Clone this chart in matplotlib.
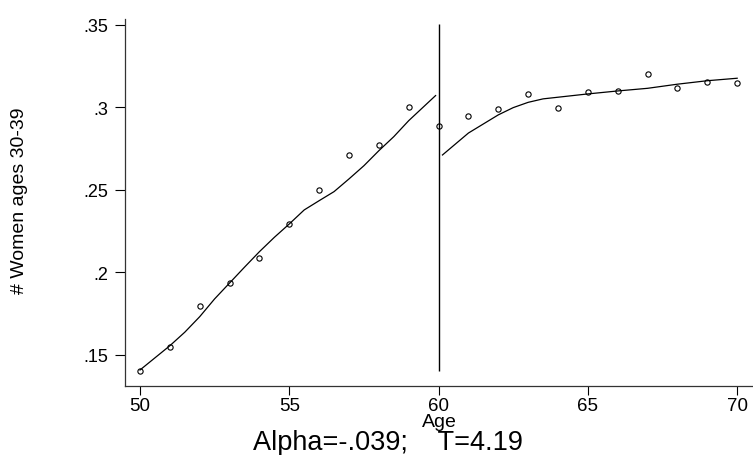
import numpy as np
import matplotlib
matplotlib.use("Agg")
import matplotlib.pyplot as plt

plt.rcParams['font.family'] = ['Liberation Sans', 'DejaVu Sans']

# -----------------------------
# data
# -----------------------------
ages = [50, 51, 52, 53, 54, 55, 56, 57, 58, 59, 60,
        61, 62, 63, 64, 65, 66, 67, 68, 69, 70]
share = [0.1405, 0.155, 0.1795, 0.1935, 0.2086, 0.2292, 0.2502, 0.2714, 0.2775, 0.3001, 0.2886,
         0.2948, 0.2989, 0.3084, 0.2995, 0.3094, 0.3102, 0.3205, 0.312, 0.3155, 0.3147]

# smoothed fit, left of the cutoff
fit_left_age = [50, 51, 51.5, 52, 52.5, 53, 53.5, 54, 54.5, 55, 55.5, 56, 56.5,
                57, 57.5, 58, 58.5, 59, 59.9]
fit_left = [0.1409, 0.1556, 0.1638, 0.1732, 0.184, 0.1936, 0.2032, 0.2126, 0.2213, 0.2294,
            0.2379, 0.2435, 0.249, 0.2567, 0.2647, 0.2738, 0.2823, 0.292, 0.3072]

# smoothed fit, right of the cutoff
fit_right_age = [60.13, 61, 61.5, 62, 62.5, 63, 63.5, 64, 65, 66, 67, 68, 69, 70]
fit_right = [0.2712, 0.2845, 0.29, 0.2955, 0.2999, 0.3031, 0.3052, 0.3062, 0.3082,
             0.31, 0.3116, 0.3141, 0.3162, 0.3177]

cutoff = 60
cut_lo, cut_hi = 0.1405, 0.3506

xticks = [50, 55, 60, 65, 70]
yticks = [0.15, 0.2, 0.25, 0.3, 0.35]
ytick_labels = ['.15', '.2', '.25', '.3', '.35']

# -----------------------------
# plot
# -----------------------------
fig = plt.figure(figsize=(7.53, 4.56), dpi=100)
ax = fig.add_axes([125/753, 69/456, 628/753, 367/456])

ax.plot(ages, share, linestyle='none', marker='o', markersize=3.8,
        markerfacecolor='none', markeredgecolor='black', markeredgewidth=0.8)
ax.plot(fit_left_age, fit_left, color='black', lw=0.9)
ax.plot(fit_right_age, fit_right, color='black', lw=0.9)
ax.vlines(cutoff, cut_lo, cut_hi, color='black', lw=1.0)

ax.set_xlim(49.498, 70.53)
ax.set_ylim(0.1312, 0.3536)
ax.set_xticks(xticks)
ax.set_xticklabels([str(t) for t in xticks])
ax.set_yticks(yticks)
ax.set_yticklabels(ytick_labels)

for s in ['top', 'right']:
    ax.spines[s].set_visible(False)
for s in ['left', 'bottom']:
    ax.spines[s].set_linewidth(0.9)
    ax.spines[s].set_color('#333333')

ax.tick_params(axis='x', direction='out', length=6.5, width=0.8, pad=1.2, labelsize=13.5)
ax.tick_params(axis='y', direction='out', length=7, width=0.8, pad=5, labelsize=13)

fig.text(20/753, 1 - 201/456, '# Women ages 30-39', rotation=90,
         ha='center', va='center', fontsize=14)
fig.text(439/753, 1 - 426.7/456, 'Age', ha='center', va='baseline', fontsize=14)
fig.text(388/753, 6/456, 'Alpha=-.039;    T=4.19', ha='center', va='baseline', fontsize=19.5)

fig.savefig('out.png', dpi=100)
